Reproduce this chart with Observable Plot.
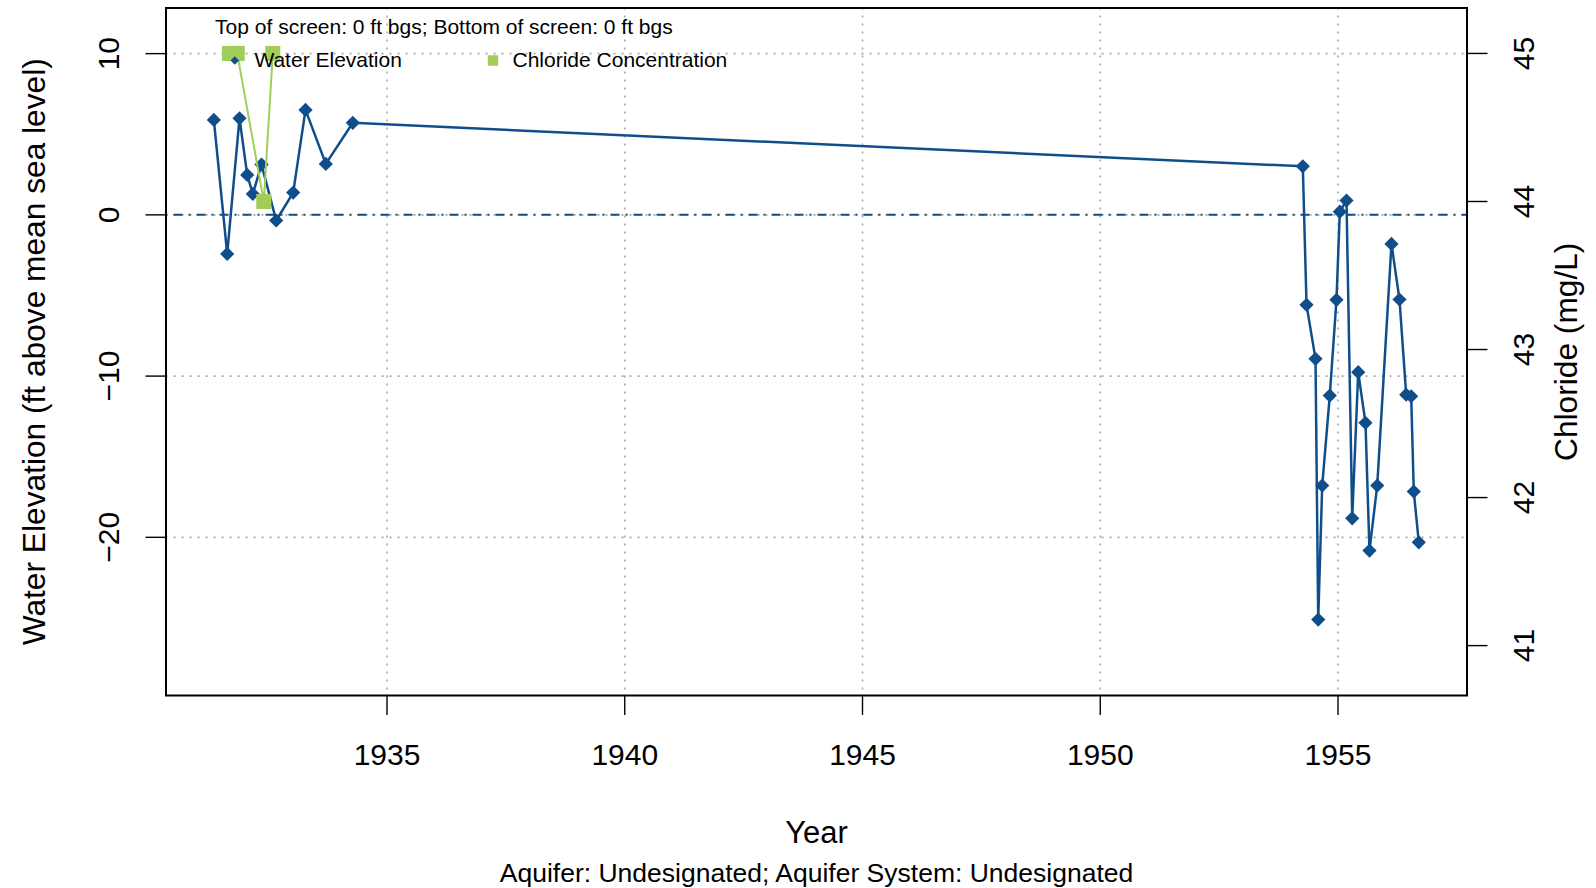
<!DOCTYPE html>
<html><head><meta charset="utf-8">
<script src="https://cdn.jsdelivr.net/npm/d3@7"></script>
<script src="https://cdn.jsdelivr.net/npm/@observablehq/plot@0.6"></script>
<style>
html,body{margin:0;padding:0;background:#fff;}
#chart{width:1596px;height:888px;}
</style></head><body><div id="chart"></div>
<script>
// ---- data ----
const waterYears = [1931.358, 1931.639, 1931.898, 1932.060, 1932.178, 1932.361, 1932.670, 1933.027, 1933.286, 1933.713, 1934.281,
  1954.260, 1954.338, 1954.527, 1954.584, 1954.668, 1954.827, 1954.968, 1955.038, 1955.179, 1955.299,
  1955.425, 1955.578, 1955.662, 1955.825, 1956.125, 1956.293, 1956.434, 1956.539, 1956.594, 1956.699];
const waterElev = [5.89, -2.42, 5.99, 2.48, 1.30, 3.12, -0.35, 1.38, 6.51, 3.16, 5.71,
  3.01, -5.58, -8.93, -25.10, -16.79, -11.21, -5.27, 0.20, 0.89, -18.82,
  -9.76, -12.90, -20.82, -16.79, -1.80, -5.25, -11.15, -11.25, -17.16, -20.31];
const chlorideYears = [1931.686, 1931.850, 1932.409, 1932.598];
const chlorideValues = [45, 45, 44, 45];
const xTicks = [1935, 1940, 1945, 1950, 1955];
const yTicks = [-20, -10, 0, 10];
const chlorideTicks = [41, 42, 43, 44, 45];
const titleText = "Top of screen: 0 ft bgs; Bottom of screen: 0 ft bgs";
const captionText = "Aquifer: Undesignated; Aquifer System: Undesignated";
const xLabel = "Year";
const yLabel = "Water Elevation (ft above mean sea level)";
const y2Label = "Chloride (mg/L)";
const legendNames = ["Water Elevation", "Chloride Concentration"];

// ---- scales / styling ----
const blue = "#104E8B", green = "#A2CD5A";
const xDomain = [1930.352, 1957.713];
const yDomain = [-29.81, 12.83];
const cDomain = [40.663, 45.307];
const toE = c => yDomain[0] + (c - cDomain[0]) * (yDomain[1] - yDomain[0]) / (cDomain[1] - cDomain[0]);
const fromE = e => cDomain[0] + (e - yDomain[0]) * (cDomain[1] - cDomain[0]) / (yDomain[1] - yDomain[0]);
const fmtNum = d => d < 0 ? "\u2212" + Math.abs(d) : String(d);

const water = waterYears.map((x, i) => ({x, y: waterElev[i]}));
const chloride = chlorideYears.map((x, i) => ({x, c: chlorideValues[i], y: toE(chlorideValues[i])}));

const font = "'Liberation Sans', Arial, Helvetica, sans-serif";
const mL = 165.5, mR = 129.5, mT = 7.5, mB = 193;

const chart = Plot.plot({
  width: 1596, height: 888,
  marginLeft: mL, marginRight: mR, marginTop: mT, marginBottom: mB,
  style: {fontFamily: font, fontSize: "30px", background: "#fff", color: "#000"},
  x: {domain: xDomain, type: "linear"},
  y: {domain: yDomain, type: "linear"},
  marks: [
    Plot.gridX(xTicks, {stroke: "#a8a8a8", strokeOpacity: 1, strokeWidth: 1.6, strokeDasharray: "2,6"}),
    Plot.gridY(yTicks, {stroke: "#a8a8a8", strokeOpacity: 1, strokeWidth: 1.6, strokeDasharray: "2,6"}),
    Plot.ruleY([0], {stroke: blue, strokeWidth: 2, strokeDasharray: "2,6,9,6"}),
    Plot.line(water, {x: "x", y: "y", stroke: blue, strokeWidth: 2.5}),
    Plot.dot(water, {x: "x", y: "y", symbol: "diamond2", r: 6.4, fill: blue}),
    Plot.line(chloride, {x: "x", y: "y", stroke: green, strokeWidth: 2}),
    Plot.dot(chloride, {x: "x", y: "y", symbol: "square", r: 8.5, fill: green}),
    Plot.frame({stroke: "#000", strokeWidth: 2}),
    Plot.axisX({ticks: xTicks, tickSize: 20, tickPadding: 28.6, tickFormat: d => String(d), label: null, fontSize: 30, strokeWidth: 1.4}),
    Plot.axisY({anchor: "left", ticks: yTicks, tickSize: 20, tickPadding: 36.85, tickRotate: -90,
      textAnchor: "middle", lineAnchor: "middle", tickFormat: fmtNum, label: null, fontSize: 30, strokeWidth: 1.4}),
    Plot.axisY({anchor: "right", ticks: chlorideTicks.map(toE), tickSize: 20, tickPadding: 37.35, tickRotate: -90,
      textAnchor: "middle", lineAnchor: "middle", tickFormat: e => String(Math.round(fromE(e))), label: null, fontSize: 30, strokeWidth: 1.4}),
    // axis titles & caption
    Plot.text([yLabel], {text: d => d, frameAnchor: "left", dx: -131.2, rotate: -90, textAnchor: "middle", lineAnchor: "middle", fontSize: 31.7}),
    Plot.text([y2Label], {text: d => d, frameAnchor: "right", dx: 99.5, rotate: -90, textAnchor: "middle", lineAnchor: "middle", fontSize: 31.7}),
    Plot.text([xLabel], {text: d => d, frameAnchor: "bottom", dy: 137.2, textAnchor: "middle", lineAnchor: "middle", fontSize: 31}),
    Plot.text([captionText], {text: d => d, frameAnchor: "bottom", dy: 177.7, textAnchor: "middle", lineAnchor: "middle", fontSize: 26.5}),
    // title line & legend
    Plot.text([titleText], {text: d => d, frameAnchor: "top-left", dx: 49.1, dy: 19.5, textAnchor: "start", lineAnchor: "middle", fontSize: 21}),
    Plot.dot([legendNames[0]], {frameAnchor: "top-left", dx: 68.8, dy: 52.5, symbol: "diamond2", r: 3.9, fill: blue}),
    Plot.text([legendNames[0]], {text: d => d, frameAnchor: "top-left", dx: 88.4, dy: 52.5, textAnchor: "start", lineAnchor: "middle", fontSize: 21}),
    Plot.dot([legendNames[1]], {frameAnchor: "top-left", dx: 327, dy: 52.5, symbol: "square", r: 5.9, fill: green}),
    Plot.text([legendNames[1]], {text: d => d, frameAnchor: "top-left", dx: 346.5, dy: 52.5, textAnchor: "start", lineAnchor: "middle", fontSize: 21})
  ]
});
document.getElementById("chart").appendChild(chart);
</script>
</body></html>
